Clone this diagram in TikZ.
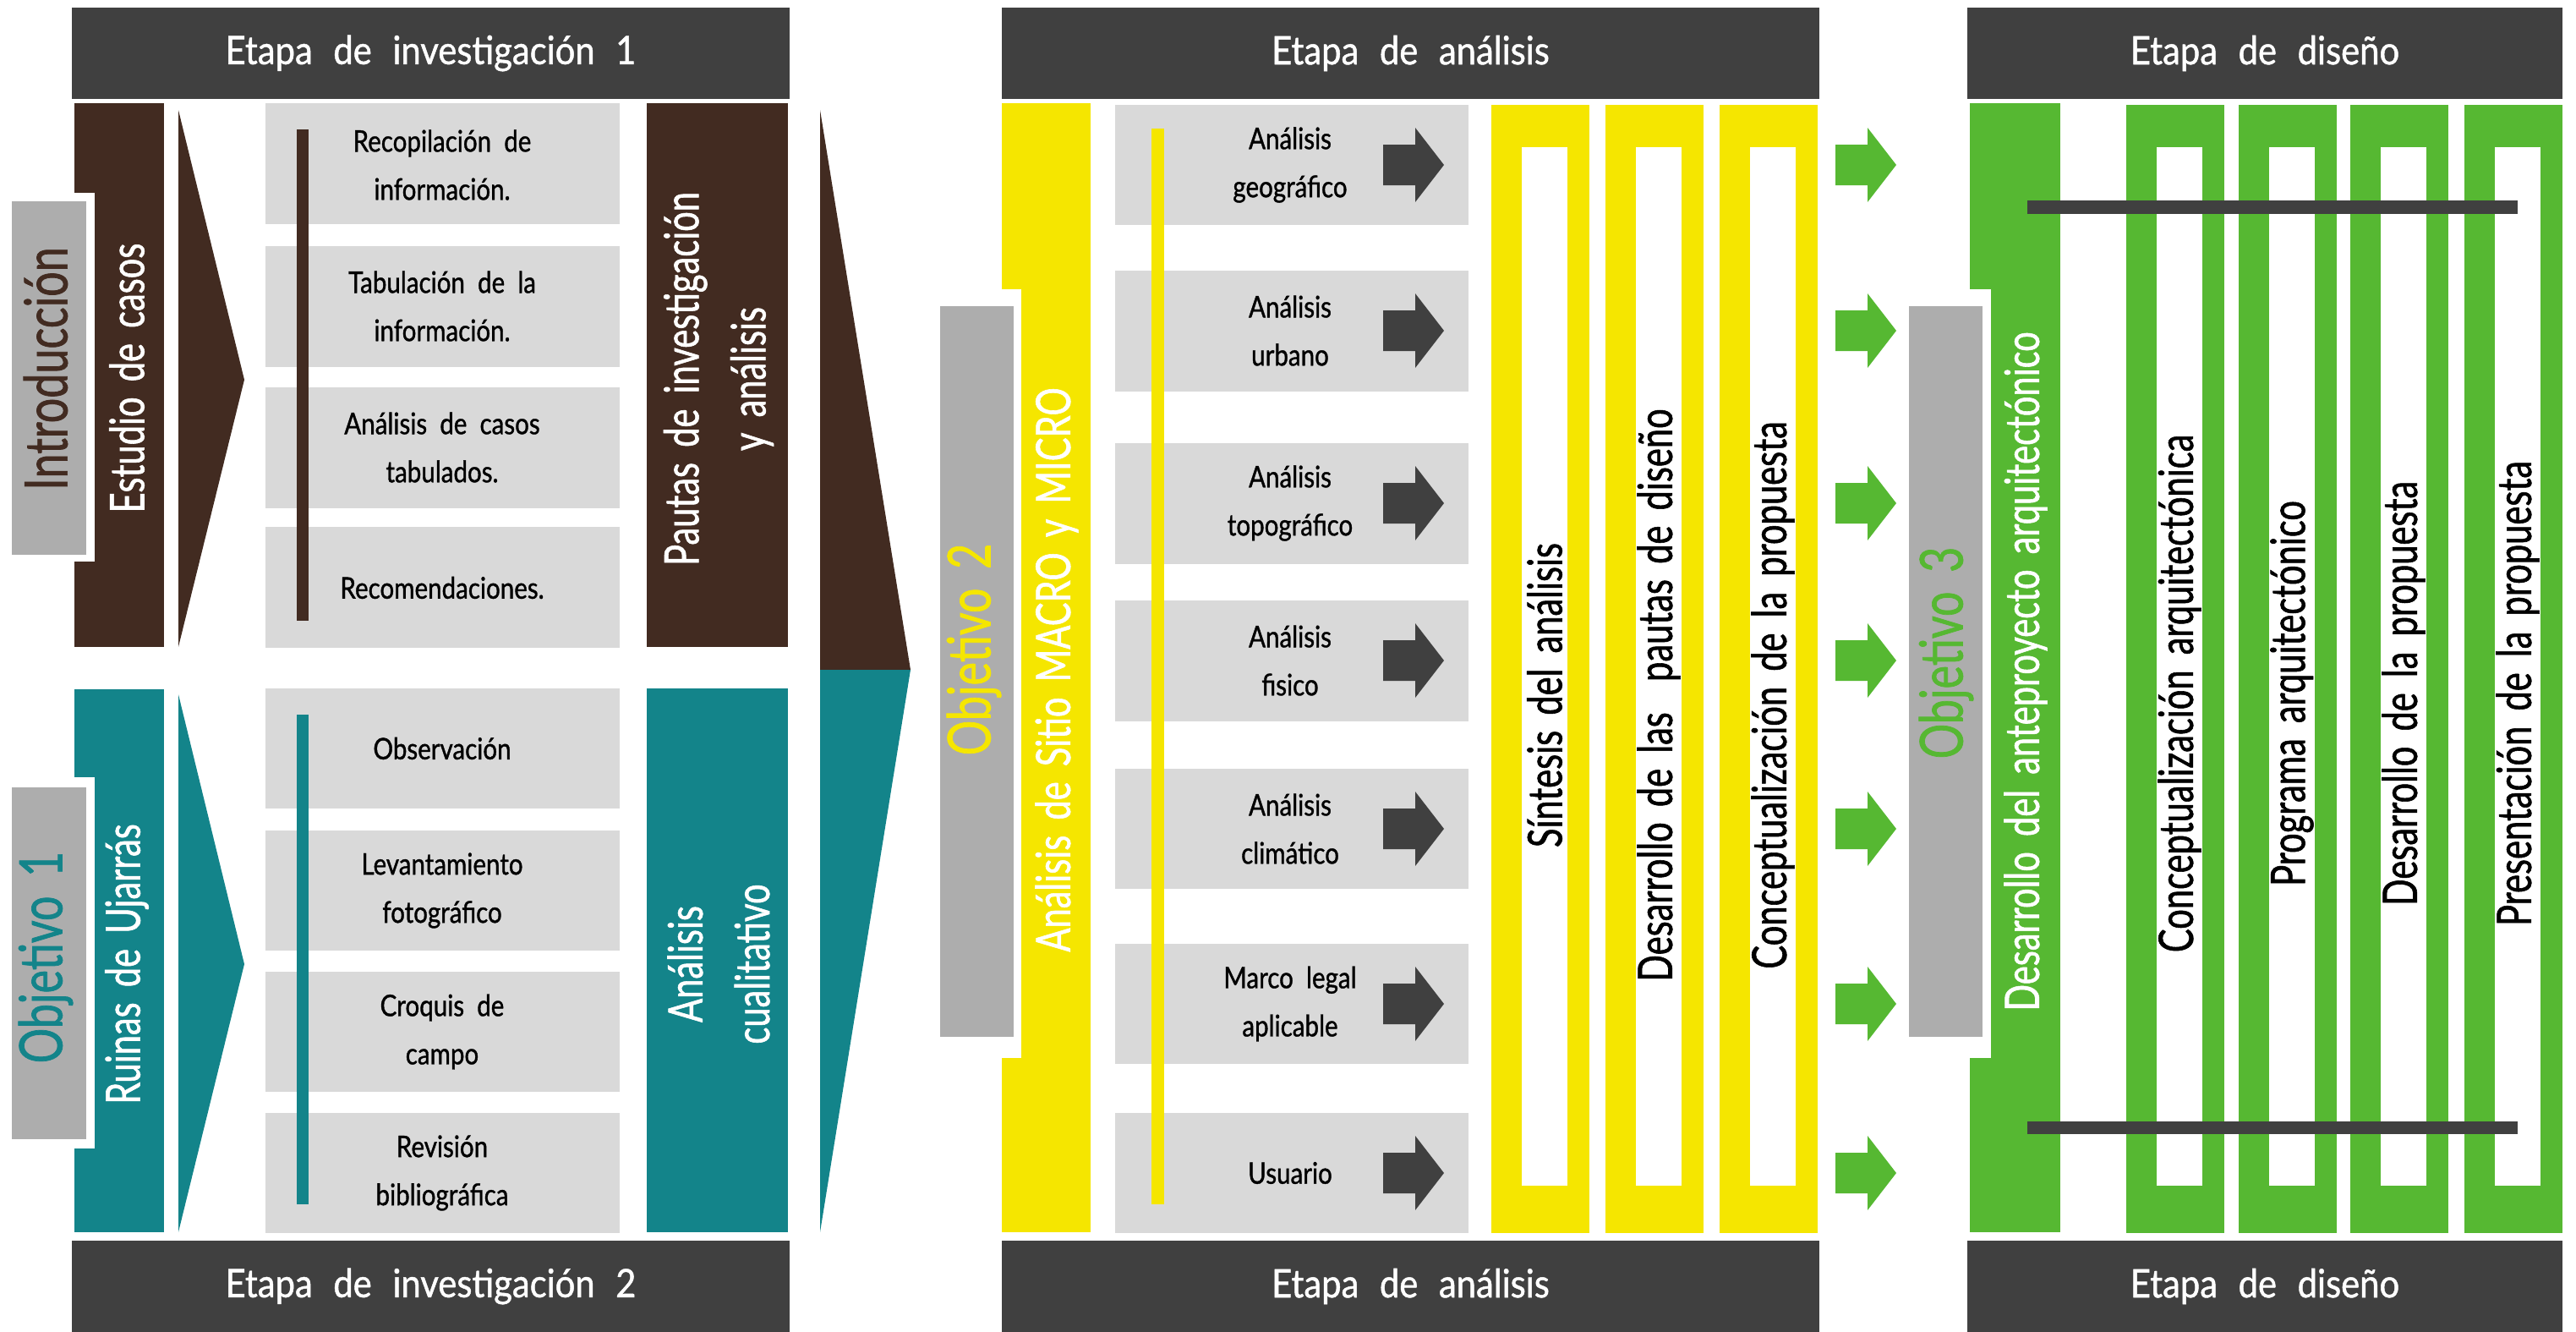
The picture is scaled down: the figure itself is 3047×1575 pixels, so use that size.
\documentclass[tikz,border=0pt]{standalone}
\usepackage{fontspec}
\setmainfont{Lato}[FakeStretch=0.74,WordSpace=1.7,FakeBold=1]
\newfontfamily\stagefont{Lato}[FakeStretch=0.9,WordSpace=2.3,FakeBold=1]
\newfontfamily\stepfont{Lato}[FakeStretch=0.84,WordSpace=2,FakeBold=1]
\usepackage{tikz}
\usetikzlibrary{positioning}
\definecolor{stagegray}{HTML}{404040}
\definecolor{casebrown}{HTML}{422B21}
\definecolor{ruinteal}{HTML}{13848A}
\definecolor{stepgray}{HTML}{D9D9D9}
\definecolor{goalgray}{HTML}{ADADAD}
\definecolor{siteyellow}{HTML}{F5E600}
\definecolor{designgreen}{HTML}{56B832}
\tikzset{
  stagetext/.style={text=white, inner sep=0pt, font=\stagefont\fontsize{13.2}{15}\selectfont},
  steptext/.style={align=center, inner sep=0pt, font=\stepfont\fontsize{10}{16.2}\selectfont},
  bartext/.style={rotate=90, align=center, inner sep=0pt, font=\fontsize{16}{22.5}\selectfont},
  goaltext/.style={rotate=90, inner sep=0pt, font=\fontsize{20}{24}\selectfont},
}
\newcommand{\stagebar}[5]{%
  \fill[stagegray] (#1,#3) rectangle (#2,#3+108);
  \node[stagetext] (#4) at ({(#1+#2)/2},#3+54) {#5};%
}
\newcommand{\framebar}[2]{%
  \fill[#2] (#1,124) rectangle (#1+116,1458);
  \fill[white] (#1+36,174) rectangle (#1+90,1402);%
}
\newcommand{\blockarrow}[3]{%
  \fill[#3] (#1,#2-24) -- (#1+38,#2-24) -- (#1+38,#2-44) -- (#1+72,#2)
    -- (#1+38,#2+44) -- (#1+38,#2+24) -- (#1,#2+24) -- cycle;%
}

\begin{document}
\begin{tikzpicture}[x=0.01cm, y=-0.01cm]
  \useasboundingbox (0,0) rectangle (3047,1575);

  % Stage headers
  \stagebar{85}{934}{9}{invtop}{Etapa de investigación 1}
  \stagebar{85}{934}{1467}{invbot}{Etapa de investigación 2}
  \stagebar{1185}{2152}{9}{anatop}{Etapa de análisis}
  \stagebar{1185}{2152}{1467}{anabot}{Etapa de análisis}
  \stagebar{2327}{3031}{9}{distop}{Etapa de diseño}
  \stagebar{2327}{3031}{1467}{disbot}{Etapa de diseño}

  % Top left: Introduccion, Estudio de casos
  \fill[casebrown] (88,122) rectangle (194,765);
  \fill[white] (88,228) rectangle (112,664);
  \fill[goalgray] (14,238) rectangle (102,656);
  \fill[casebrown] (211,130) -- (289,449) -- (211,765) -- cycle;
  \foreach \t in {122,291,458,623} {
    \fill[stepgray] (314,\t) rectangle (733,\t+143);
  }
  \fill[casebrown] (351,153) rectangle (365,734);
  \fill[casebrown] (765,122) rectangle (932,765);
  \node[goaltext, text=casebrown] (intro) at (54,436) {Introducción};
  \node[bartext, text=white] (estudio) at (150,447) {Estudio de casos};
  \node[steptext] (recop) at (523,195) {Recopilación de\\información.};
  \node[steptext] (tabul) at (523,362) {Tabulación de la\\información.};
  \node[steptext] (casos) at (523,529) {Análisis de casos\\tabulados.};
  \node[steptext] (recom) at (523,695) {Recomendaciones.};
  \node[bartext, text=white] (pautas) at (850,448) {Pautas de investigación\\y análisis};

  % Funnel into the analysis stage
  \fill[casebrown] (970,130) -- (1077,792) -- (970,792) -- cycle;
  \fill[ruinteal] (970,792) -- (1077,792) -- (970,1457) -- cycle;

  % Bottom left: Objetivo 1, Ruinas de Ujarras
  \fill[ruinteal] (88,815) rectangle (194,1457);
  \fill[white] (88,919) rectangle (112,1358);
  \fill[goalgray] (14,931) rectangle (102,1347);
  \fill[ruinteal] (211,821) -- (289,1140) -- (211,1457) -- cycle;
  \foreach \t in {814,982,1149,1316} {
    \fill[stepgray] (314,\t) rectangle (733,\t+142);
  }
  \fill[ruinteal] (351,845) rectangle (365,1424);
  \fill[ruinteal] (765,814) rectangle (932,1457);
  \node[goaltext, text=ruinteal] (obj1) at (54,1132) {Objetivo 1};
  \node[bartext, text=white] (ruinas) at (150,1140) {Ruinas de Ujarrás};
  \node[steptext] (observ) at (523,885) {Observación};
  \node[steptext] (levant) at (523,1053) {Levantamiento\\fotográfico};
  \node[steptext] (croquis) at (523,1220) {Croquis de\\campo};
  \node[steptext] (revis) at (523,1387) {Revisión\\bibliográfica};
  \node[bartext, text=white] (cualit) at (850,1140) {Análisis\\cualitativo};

  % Analysis stage: Objetivo 2
  \fill[siteyellow] (1185,122) rectangle (1290,1457);
  \fill[white] (1185,342) rectangle (1208,1251);
  \fill[goalgray] (1112,362) rectangle (1199,1226);
  \foreach \t/\b in {124/266,320/463,524/667,710/853,909/1051,1116/1258,1316/1458} {
    \fill[stepgray] (1319,\t) rectangle (1737,\b);
  }
  \fill[siteyellow] (1362,152) rectangle (1377,1424);
  \foreach \c in {195,391,595,781,980,1187,1387} {
    \blockarrow{1636}{\c}{stagegray}
    \blockarrow{2171}{\c}{designgreen}
  }
  \foreach \x in {1764,1899,2034} {
    \framebar{\x}{siteyellow}
  }
  \node[goaltext, text=siteyellow] (obj2) at (1152,768) {Objetivo 2};
  \node[bartext, text=white] (sitio) at (1250,792) {Análisis de Sitio MACRO y MICRO};
  \node[steptext] (geo) at (1526,195) {Análisis\\geográfico};
  \node[steptext] (urb) at (1526,391) {Análisis\\urbano};
  \node[steptext] (topo) at (1526,595) {Análisis\\topográfico};
  \node[steptext] (fis) at (1526,781) {Análisis\\fisico};
  \node[steptext] (clim) at (1526,980) {Análisis\\climático};
  \node[steptext] (marco) at (1526,1187) {Marco legal\\aplicable};
  \node[steptext] (usu) at (1526,1387) {Usuario};
  \node[bartext] (sintesis) at (1827,822) {Síntesis del análisis};
  \node[bartext] (pautasdis) at (1962,822) {Desarrollo de las\ \ pautas de diseño};
  \node[bartext] (concprop) at (2097,822) {Conceptualización de la propuesta};

  % Design stage: Objetivo 3
  \fill[designgreen] (2330,122) rectangle (2437,1457);
  \fill[white] (2330,342) rectangle (2355,1251);
  \fill[goalgray] (2258,362) rectangle (2345,1226);
  \foreach \x in {2515,2648,2780,2915} {
    \framebar{\x}{designgreen}
  }
  \fill[stagegray] (2398,237) rectangle (2978,253);
  \fill[stagegray] (2398,1326) rectangle (2978,1341);
  \node[goaltext, text=designgreen] (obj3) at (2302,772) {Objetivo 3};
  \node[bartext, text=white] (antep) at (2396,794) {Desarrollo del anteproyecto arquitectónico};
  \node[bartext] (concarq) at (2578,820) {Conceptualización arquitectónica};
  \node[bartext] (progarq) at (2711,820) {Programa arquitectónico};
  \node[bartext] (desprop) at (2843,820) {Desarrollo de la propuesta};
  \node[bartext] (presprop) at (2978,820) {Presentación de la propuesta};
\end{tikzpicture}
\end{document}
